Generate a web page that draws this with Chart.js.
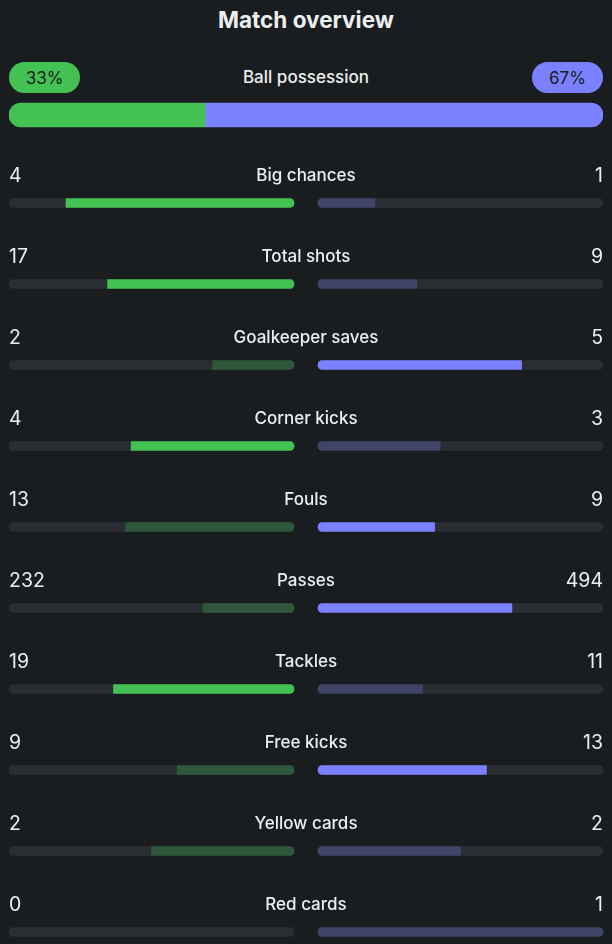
<!DOCTYPE html>
<html>
<head>
<meta charset="utf-8">
<script src="https://cdn.jsdelivr.net/npm/chart.js@4"></script>
<style>
  html, body { margin: 0; padding: 0; background: #1a1d20; }
  body { width: 612px; height: 944px; position: relative; overflow: hidden; font-family: Inter, "Noto Sans", sans-serif; color: #eceff1; }
  #title { position: absolute; top: 6px; left: 0; width: 612px; text-align: center; font-size: 22.5px; font-weight: 700; }
  .pill { position: absolute; top: 62px; width: 71px; height: 31px; border-radius: 16px; line-height: 32px; text-align: center; font-size: 17px; color: #1a1d20; }
  #posLabel { position: absolute; top: 67px; left: 0; width: 612px; text-align: center; font-size: 17px; font-weight: 500; }
  #posWrap { position: absolute; left: 0; top: 97px; width: 612px; height: 36px; }
  #statWrap { position: absolute; left: 0; top: 0; width: 612px; height: 944px; }
</style>
</head>
<body>
<div id="title">Match overview</div>
<div class="pill" id="homePill" style="left:9px;background:#43c253"></div>
<div id="posLabel">Ball possession</div>
<div class="pill" id="awayPill" style="left:532px;background:#7b80ff"></div>
<div id="statWrap"><canvas id="stats"></canvas></div>
<div id="posWrap"><canvas id="possession"></canvas></div>
<script>
// possession
var homePossession = 33;
var awayPossession = 67;

// stats rows
var categories = ['Big chances', 'Total shots', 'Goalkeeper saves', 'Corner kicks', 'Fouls',
                  'Passes', 'Tackles', 'Free kicks', 'Yellow cards', 'Red cards'];
var homeValues = [4, 17, 2, 4, 13, 232, 19, 9, 2, 0];
var awayValues = [1, 9, 5, 3, 9, 494, 11, 13, 2, 1];
// lower is better for these
var lowerBetter = ['Fouls', 'Yellow cards', 'Red cards'];

var GREEN = '#43c253', GREEN_DIM = '#2f573b';
var BLUE = '#7b80ff', BLUE_DIM = '#404467';
var TRACK = '#2a2e32';
var GAP = 12 / 285;

document.getElementById('homePill').textContent = homePossession + '%';
document.getElementById('awayPill').textContent = awayPossession + '%';

function winner(i) {
  var h = homeValues[i], a = awayValues[i];
  if (h === a) return 0;
  var homeWins = lowerBetter.indexOf(categories[i]) >= 0 ? h < a : h > a;
  return homeWins ? 1 : 2;
}

var homeFrac = homeValues.map(function(v, i) {
  var t = v + awayValues[i]; return t ? v / t : 0;
});
var awayFrac = awayValues.map(function(v, i) {
  var t = v + homeValues[i]; return t ? v / t : 0;
});

// zero values get no bar at all
var homeFill = homeFrac.map(function(f) { return f > 0 ? [-(GAP + f), -GAP] : null; });
var awayFill = awayFrac.map(function(f) { return f > 0 ? [GAP, GAP + f] : null; });
var homeTrack = categories.map(function() { return [-(GAP + 1), -GAP]; });
var awayTrack = categories.map(function() { return [GAP, GAP + 1]; });

var rowLabels = {
  id: 'rowLabels',
  afterDatasetsDraw: function(chart) {
    var ctx = chart.ctx, x = chart.scales.x, y = chart.scales.y;
    ctx.save();
    ctx.fillStyle = '#eceff1';
    ctx.textBaseline = 'middle';
    categories.forEach(function(c, i) {
      var py = y.getPixelForValue(i) - 27;
      ctx.font = '500 17px Inter, "Noto Sans", sans-serif';
      ctx.textAlign = 'center';
      ctx.fillText(c, x.getPixelForValue(0), py);
      ctx.font = '400 19.5px Inter, "Noto Sans", sans-serif';
      ctx.textAlign = 'left';
      ctx.fillText(String(homeValues[i]), x.getPixelForValue(x.min), py);
      ctx.textAlign = 'right';
      ctx.fillText(String(awayValues[i]), x.getPixelForValue(x.max), py);
    });
    ctx.restore();
  }
};

function fillRadius(side) {
  return function(ctx) {
    var f = side === 'home' ? homeFrac[ctx.dataIndex] : awayFrac[ctx.dataIndex];
    var outer = f >= 0.999 ? 5 : 0;
    if (side === 'home') return { topLeft: outer, bottomLeft: outer, topRight: 5, bottomRight: 5 };
    return { topLeft: 5, bottomLeft: 5, topRight: outer, bottomRight: outer };
  };
}

new Chart(document.getElementById('stats'), {
  type: 'bar',
  data: {
    labels: categories,
    datasets: [
      { data: homeTrack, backgroundColor: TRACK, borderRadius: 5, borderSkipped: false, grouped: false, order: 3 },
      { data: awayTrack, backgroundColor: TRACK, borderRadius: 5, borderSkipped: false, grouped: false, order: 3 },
      { data: homeFill, grouped: false, order: 1, borderSkipped: false,
        backgroundColor: categories.map(function(c, i) { return winner(i) === 1 ? GREEN : GREEN_DIM; }),
        borderRadius: fillRadius('home') },
      { data: awayFill, grouped: false, order: 1, borderSkipped: false,
        backgroundColor: categories.map(function(c, i) { return winner(i) === 2 ? BLUE : BLUE_DIM; }),
        borderRadius: fillRadius('away') }
    ]
  },
  options: {
    indexAxis: 'y',
    responsive: true,
    maintainAspectRatio: false,
    animation: false,
    datasets: { bar: { barThickness: 9, clip: false } },
    layout: { padding: { left: 9, right: 9, top: 203, bottom: 12 } },
    plugins: { legend: { display: false }, tooltip: { enabled: false } },
    scales: {
      x: { min: -(1 + GAP), max: 1 + GAP, display: false },
      y: { display: false, offset: false }
    }
  },
  plugins: [rowLabels]
});

new Chart(document.getElementById('possession'), {
  type: 'bar',
  data: {
    labels: ['Ball possession'],
    datasets: [
      { data: [homePossession], backgroundColor: GREEN, borderSkipped: false,
        borderRadius: { topLeft: 12, bottomLeft: 12, topRight: 0, bottomRight: 0 } },
      { data: [awayPossession], backgroundColor: BLUE, borderSkipped: false,
        borderRadius: { topLeft: 0, bottomLeft: 0, topRight: 12, bottomRight: 12 } }
    ]
  },
  options: {
    indexAxis: 'y',
    responsive: true,
    maintainAspectRatio: false,
    animation: false,
    datasets: { bar: { barThickness: 24 } },
    layout: { padding: { left: 9, right: 9, top: 0, bottom: 0 } },
    plugins: { legend: { display: false }, tooltip: { enabled: false } },
    scales: {
      x: { stacked: true, min: 0, max: homePossession + awayPossession, display: false },
      y: { stacked: true, display: false }
    }
  }
});
</script>
</body>
</html>
